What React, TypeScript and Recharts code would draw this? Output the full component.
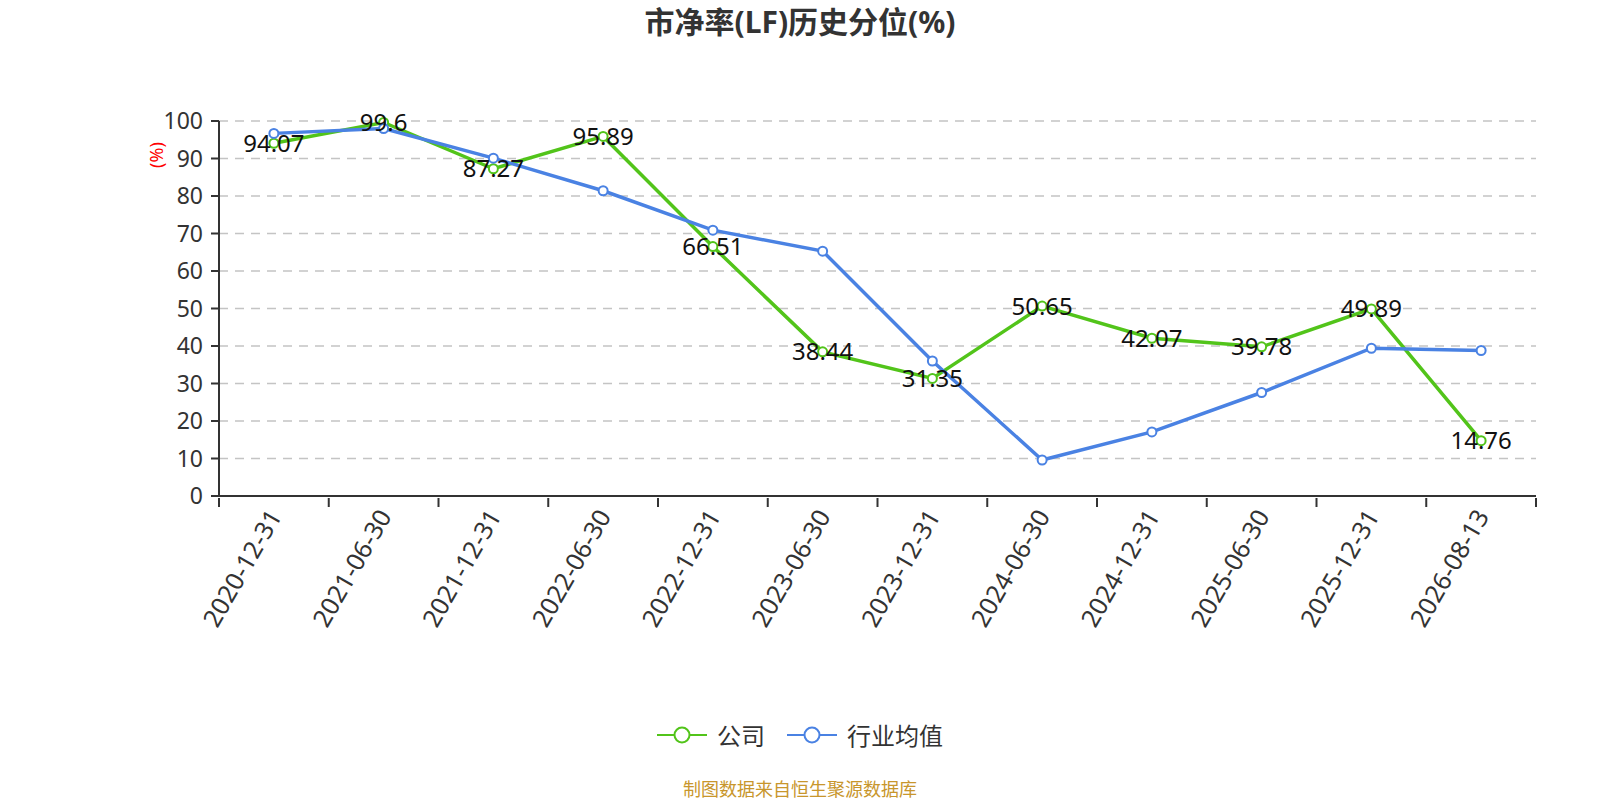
import React from "react";
import { LineChart, Line, XAxis, YAxis, CartesianGrid, Legend, LabelList } from "recharts";

const FONT = "'Noto Sans', 'Noto Sans CJK SC', sans-serif";

const categories = [
  "2020-12-31", "2021-06-30", "2021-12-31", "2022-06-30", "2022-12-31", "2023-06-30",
  "2023-12-31", "2024-06-30", "2024-12-31", "2025-06-30", "2025-12-31", "2026-08-13",
];
const companyValues = [94.07, 99.6, 87.27, 95.89, 66.51, 38.44, 31.35, 50.65, 42.07, 39.78, 49.89, 14.76];
const industryValues = [96.7, 98.0, 90.1, 81.4, 70.9, 65.3, 36.0, 9.6, 17.1, 27.6, 39.4, 38.8];
const yTicks = [0, 10, 20, 30, 40, 50, 60, 70, 80, 90, 100];

const seriesNames = { company: "公司", industry: "行业均值" };
const GREEN = "#52c41a";
const BLUE = "#4a82e3";

const data = categories.map((date, i) => ({
  date,
  company: companyValues[i],
  industry: industryValues[i],
}));

// ticks at band edges, labels at band centers (rotated)
const XTick = (props: any) => {
  const { x, y, payload, index, visibleTicksCount, width } = props;
  const half = payload && payload.offset ? payload.offset : width / categories.length / 2;
  const ty = y + 13;
  return (
    <g>
      <line x1={x - half} x2={x - half} y1={y} y2={y + 9} stroke="#333" strokeWidth={2} />
      {index === visibleTicksCount - 1 && (
        <line x1={x + half} x2={x + half} y1={y} y2={y + 9} stroke="#333" strokeWidth={2} />
      )}
      <text
        x={x}
        y={ty}
        transform={`rotate(-60, ${x}, ${ty})`}
        textAnchor="end"
        dominantBaseline="central"
        fontSize={25}
        fill="#333"
        fontFamily={FONT}
      >
        {payload.value}
      </text>
    </g>
  );
};

const LegendIcon = ({ color }: { color: string }) => (
  <svg width={50} height={20}>
    <line x1={0} x2={50} y1={10} y2={10} stroke={color} strokeWidth={2} />
    <circle cx={25} cy={10} r={7.5} fill="#fff" stroke={color} strokeWidth={2} />
  </svg>
);

const renderLegend = (props: any) => {
  const items = (props.payload || []).filter((p: any) => p.type !== "none");
  return (
    <div style={{ display: "flex", justifyContent: "center", alignItems: "center", fontFamily: FONT }}>
      {items.map((p: any) => (
        <div key={p.value} style={{ display: "flex", alignItems: "center", margin: "0 11px" }}>
          <LegendIcon color={p.color} />
          <span style={{ marginLeft: 10, fontSize: 24, color: "#333" }}>{p.value}</span>
        </div>
      ))}
    </div>
  );
};

export default function App() {
  return (
    <div style={{ position: "absolute", left: 0, top: 0, width: 1600, height: 800, background: "#fff", fontFamily: FONT }}>
      <div
        style={{
          position: "absolute", left: 0, top: 4, width: 1600, textAlign: "center",
          fontSize: 30, fontWeight: "bold", color: "#333", lineHeight: "36px",
        }}
      >
        市净率(LF)历史分位(%)
      </div>

      <LineChart width={1600} height={800} data={data} margin={{ top: 121, right: 64, bottom: 104, left: 0 }}>
        <CartesianGrid vertical={false} stroke="#c4c4c4" strokeDasharray="9 7" strokeWidth={1.5} />
        <XAxis
          dataKey="date"
          scale="band"
          height={200}
          interval={0}
          tickSize={0}
          tickLine={false}
          axisLine={{ stroke: "#333", strokeWidth: 2 }}
          tick={<XTick />}
        />
        <YAxis
          width={219}
          domain={[0, 100]}
          ticks={yTicks}
          interval={0}
          tickSize={8}
          tickMargin={8}
          axisLine={{ stroke: "#333", strokeWidth: 2 }}
          tickLine={{ stroke: "#333", strokeWidth: 2 }}
          tick={{ fill: "#333", fontSize: 23, fontFamily: FONT }}
          label={({ viewBox }: any) => (
            <text
              x={viewBox.x + viewBox.width - 63}
              y={viewBox.y + 34}
              transform={`rotate(-90, ${viewBox.x + viewBox.width - 63}, ${viewBox.y + 34})`}
              textAnchor="middle"
              dominantBaseline="central"
              fill="red"
              fontSize={18}
              fontFamily={FONT}
            >
              (%)
            </text>
          )}
        />
        <Legend
          layout="horizontal"
          verticalAlign="middle"
          align="center"
          content={renderLegend}
          wrapperStyle={{ top: 717, left: 0, width: 1600 }}
        />
        <Line
          name={seriesNames.company}
          dataKey="company"
          stroke={GREEN}
          strokeWidth={3.5}
          dot={{ r: 4.5, fill: "#fff", stroke: GREEN, strokeWidth: 2 }}
          activeDot={false}
          isAnimationActive={false}
        />
        <Line
          name={seriesNames.industry}
          dataKey="industry"
          stroke={BLUE}
          strokeWidth={3.5}
          dot={{ r: 4.5, fill: "#fff", stroke: BLUE, strokeWidth: 2 }}
          activeDot={false}
          isAnimationActive={false}
        />
        {/* label layer on top of both lines */}
        <Line
          dataKey="company"
          stroke="none"
          dot={false}
          activeDot={false}
          legendType="none"
          isAnimationActive={false}
        >
          <LabelList dataKey="company" position="center" fill="#111" fontSize={24} fontFamily={FONT} />
        </Line>
      </LineChart>

      <div
        style={{
          position: "absolute", left: 0, top: 777, width: 1600, textAlign: "center",
          fontSize: 18, color: "#c8962c", lineHeight: "24px",
        }}
      >
        制图数据来自恒生聚源数据库
      </div>
    </div>
  );
}
